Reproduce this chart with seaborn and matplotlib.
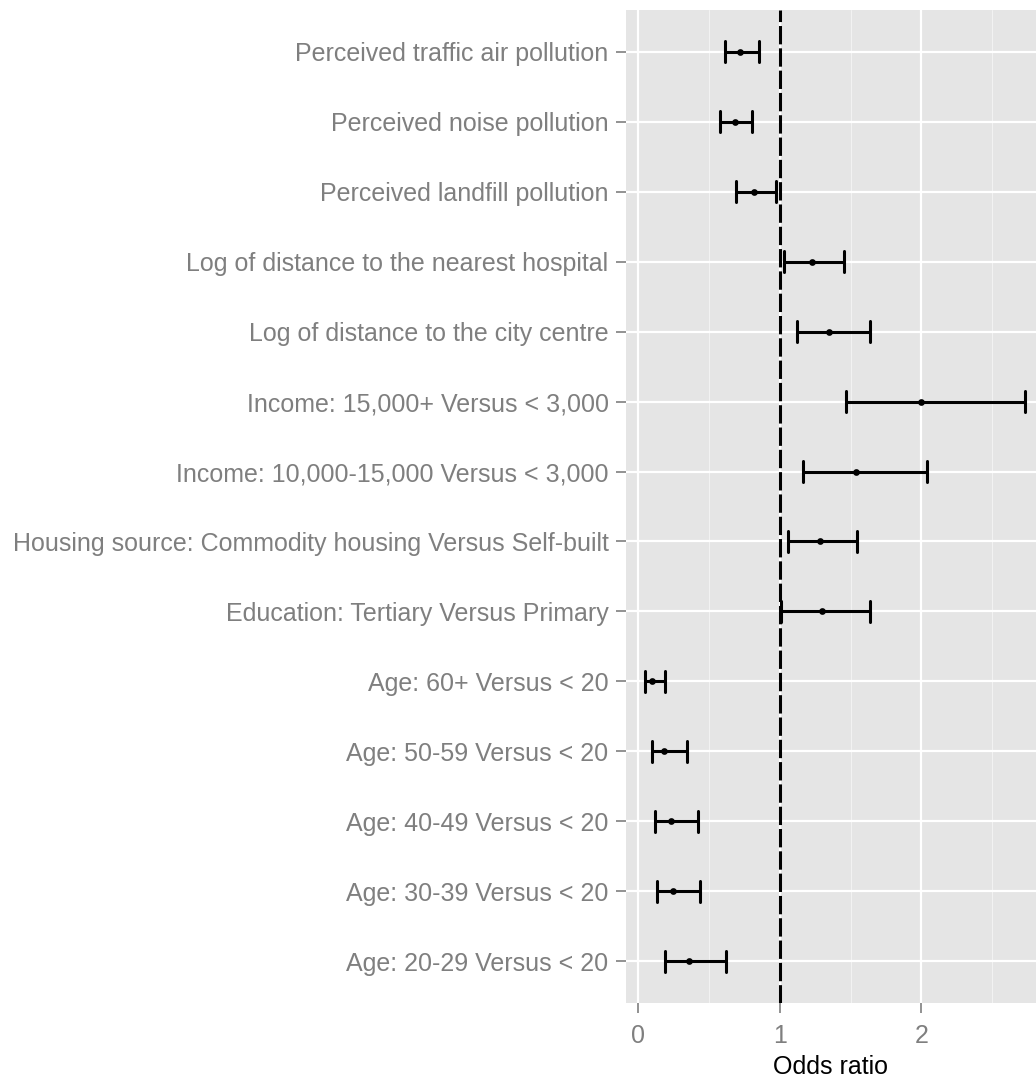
import matplotlib
matplotlib.use("Agg")
import matplotlib.pyplot as plt
import seaborn as sns
import pandas as pd
from matplotlib.ticker import MultipleLocator

variables = [
    "Perceived traffic air pollution",
    "Perceived noise pollution",
    "Perceived landfill pollution",
    "Log of distance to the nearest hospital",
    "Log of distance to the city centre",
    "Income: 15,000+ Versus < 3,000",
    "Income: 10,000-15,000 Versus < 3,000",
    "Housing source: Commodity housing Versus Self-built",
    "Education: Tertiary Versus Primary",
    "Age: 60+ Versus < 20",
    "Age: 50-59 Versus < 20",
    "Age: 40-49 Versus < 20",
    "Age: 30-39 Versus < 20",
    "Age: 20-29 Versus < 20",
]
odds_ratio = [0.72, 0.68, 0.82, 1.23, 1.35, 2.00, 1.54, 1.28, 1.30, 0.095, 0.18, 0.23, 0.245, 0.36]
ci_low = [0.61, 0.58, 0.69, 1.03, 1.12, 1.47, 1.16, 1.06, 1.01, 0.045, 0.095, 0.12, 0.13, 0.19]
ci_high = [0.85, 0.80, 0.97, 1.455, 1.635, 2.73, 2.04, 1.545, 1.64, 0.19, 0.34, 0.42, 0.435, 0.62]

grey_text = "#7F7F7F"


def main():
    sns.set_theme(style="darkgrid", rc={
        "axes.facecolor": "#E5E5E5",
        "grid.color": "white",
        "axes.edgecolor": "none",
    })
    plt.rcParams["font.family"] = ["Liberation Sans", "DejaVu Sans"]

    # long form: low / estimate / high per variable, median = estimate
    df = pd.DataFrame({
        "Variable": variables * 3,
        "Value": odds_ratio + ci_low + ci_high,
    })

    fig = plt.figure(figsize=(10.36, 10.77), dpi=100)
    ax = fig.add_axes([0.6042, 0.0687, 0.3958, 0.922])

    ax.axvline(1, color="black", linestyle=(0, (6, 1.3)), linewidth=2.2, zorder=1.5)

    sns.pointplot(
        data=df, x="Value", y="Variable", order=variables,
        estimator="median", errorbar=lambda v: (v.min(), v.max()),
        color="black", linestyle="none", markers="o", markersize=2.8,
        capsize=0.3, err_kws={"linewidth": 2.2}, ax=ax, zorder=3,
    )

    ax.set_xlim(-0.088, 2.81)
    ax.set_ylim(13.6, -0.6)
    ax.xaxis.set_major_locator(MultipleLocator(1))
    ax.xaxis.set_minor_locator(MultipleLocator(0.5))
    ax.grid(which="major", color="white", linewidth=1.6)
    ax.grid(which="minor", axis="x", color="#F2F2F2", linewidth=0.8)
    ax.set_axisbelow(True)

    ax.tick_params(axis="both", which="major", length=7, width=1.2,
                   color=grey_text, labelcolor=grey_text, labelsize=18, pad=6,
                   bottom=True, left=True)
    ax.tick_params(axis="y", pad=5.5)
    ax.tick_params(axis="x", pad=8)
    ax.tick_params(which="minor", length=0)

    ax.set_xlabel("Odds ratio", fontsize=18, color="black", labelpad=5)
    ax.set_ylabel(None)

    fig.savefig("out.png", dpi=100)


if __name__ == "__main__":
    main()
